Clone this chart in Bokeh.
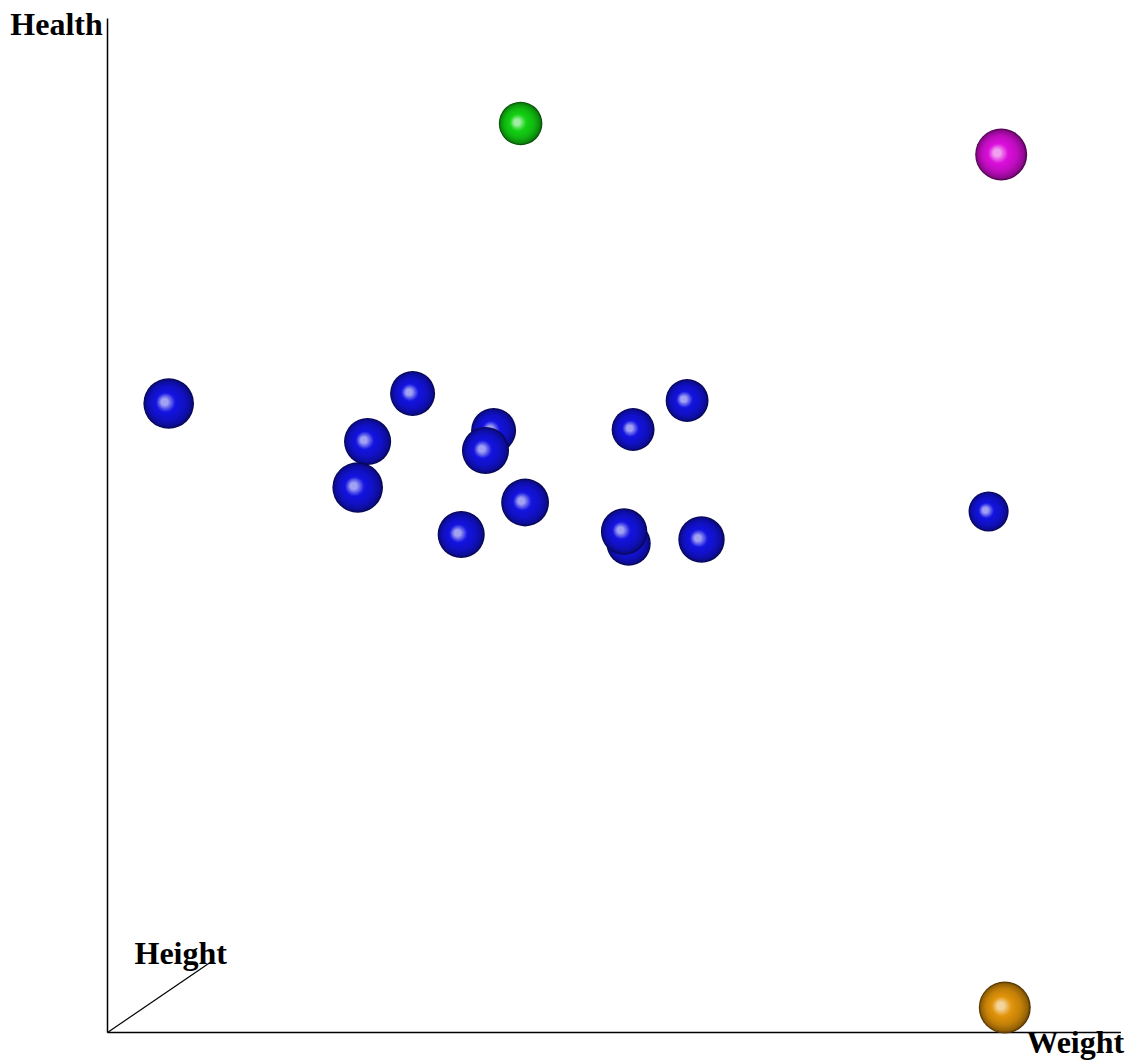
from bokeh.plotting import figure
from bokeh.models import Range1d, ColumnDataSource
from bokeh.embed import file_html
from bokeh.resources import INLINE
from bokeh.core.properties import value

# ---- data ----
weight = [45.9, 99.3, 99.7, 6.8, 33.9, 28.9, 27.8, 42.9, 42.0, 46.4, 39.3,
          58.4, 64.4, 57.4, 57.9, 66.0, 97.9]
health = [90.9, 87.8, 2.5, 62.9, 63.9, 59.1, 54.5, 60.2, 58.2, 53.0, 49.8,
          60.3, 63.2, 50.1, 48.9, 49.3, 52.1]
height = [4.0, 10.0, 10.0, 9.0, 5.0, 6.5, 9.0, 5.0, 6.5, 7.0, 6.5,
          3.5, 3.5, 6.0, 4.5, 6.0, 1.5]
group = ["green", "magenta", "orange"] + ["blue"] * 14
axis_labels = ["Health", "Height", "Weight"]

# ---- styles ----
base_rgb = {"blue": (20, 20, 225), "green": (20, 210, 20),
            "magenta": (220, 15, 220), "orange": (225, 148, 10)}
XPX, YPX = 9.0, 10.0  # pixels per data unit


def hexc(c):
    return "#%02x%02x%02x" % tuple(max(0, min(255, int(round(v)))) for v in c)


def shade(rgb, t):
    # t: 0 = rim, 1 = highlight centre
    stops = [(0.0, 0.38), (0.08, 0.65), (0.35, 0.87), (0.7, 1.0)]
    if t <= 0.7:
        for (t0, f0), (t1, f1) in zip(stops[:-1], stops[1:]):
            if t0 <= t <= t1:
                f = f0 + (f1 - f0) * (t - t0) / (t1 - t0)
                return hexc([v * f for v in rgb])
    w = (t - 0.7) / 0.3 * 0.6
    return hexc([v + (255 - v) * w for v in rgb])


order = sorted(range(len(weight)), key=lambda i: height[i])
N = 22
xs, ys, sz, cols = [], [], [], []
for i in order:
    d = 38 + 1.4 * height[i]
    rgb = base_rgb[group[i]]
    for k in range(N):
        t = k / (N - 1)
        dd = d * (1 - 0.85 * t)
        xs.append(weight[i] - 0.08 * d * t / XPX)
        ys.append(health[i] + 0.03 * d * t / YPX)
        sz.append(dd)
        cols.append(shade(rgb, t))

src = ColumnDataSource(dict(x=xs, y=ys, size=sz, color=cols))

p = figure(width=1134, height=1060, output_backend="svg", toolbar_location=None,
           x_range=Range1d(-107 / XPX, (1134 - 107) / XPX),
           y_range=Range1d((1032 - 1060) / YPX, 1032 / YPX),
           x_axis_location=None, y_axis_location=None, min_border=0)
p.grid.visible = False
p.outline_line_color = None
p.background_fill_color = "white"

# axes of the 3D box
p.line([0, 0], [0, 101.4], line_color="black", line_width=1.5)
p.line([0, 112.6], [0, 0], line_color="black", line_width=1.5)
p.line([0, 11.4], [0, 7.0], line_color="black", line_width=1.2)

p.scatter("x", "y", size="size", fill_color="color", line_color=None, source=src)

font = value("Liberation Serif")
p.text([-10.8], [100.9], text=[axis_labels[0]], text_font=font, text_font_style="bold",
       text_font_size="32px", text_baseline="alphabetic", text_color="black")
p.text([3.0], [8.0], text=[axis_labels[1]], text_font=font, text_font_style="bold",
       text_font_size="32px", text_baseline="alphabetic", text_color="black")
p.text([102.1], [-0.9], text=[axis_labels[2]], text_font=font, text_font_style="bold",
       text_font_size="32px", text_baseline="alphabetic", text_color="black")

open("out.html", "w").write(file_html(p, INLINE))
